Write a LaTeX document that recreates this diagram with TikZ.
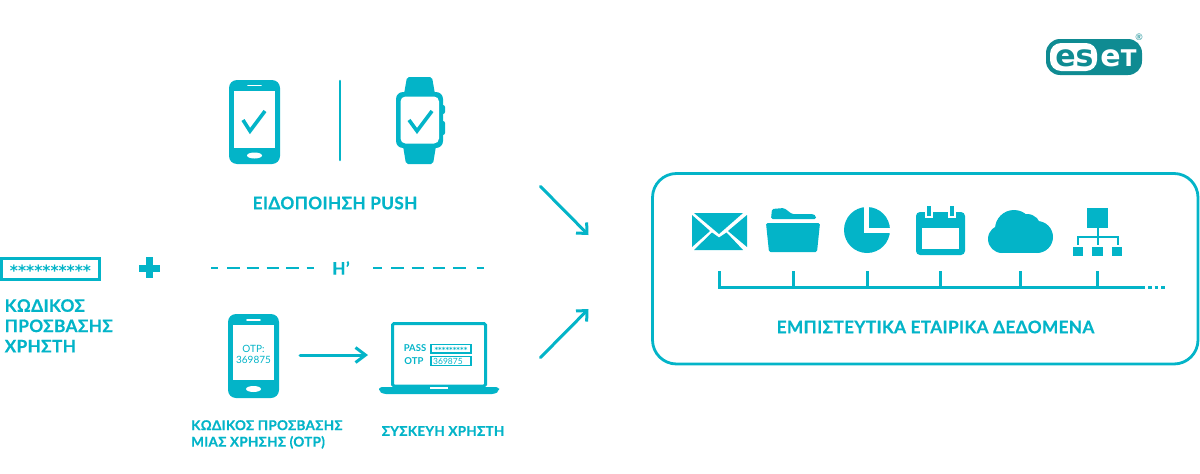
\documentclass[tikz,border=0pt]{standalone}
\usepackage{fontspec}
\setmainfont{Lato}
\usetikzlibrary{arrows.meta}
\definecolor{esetcyan}{HTML}{03B4C8}
\definecolor{esetdark}{HTML}{0F8B92}
\newfontfamily\labelfont[LetterSpace=2,FakeBold=0.6]{Lato Bold}
\newfontfamily\starfont{DejaVu Sans Bold}
\tikzset{
    label text/.style={text=esetcyan,font=\labelfont\fontsize{17.2}{20.3}\selectfont,inner sep=0pt,align=left},
    lower text/.style={text=esetcyan,font=\labelfont\fontsize{13.5}{16.5}\selectfont,inner sep=0pt,align=left},
    small text/.style={text=esetcyan,font=\fontsize{9.5}{11}\selectfont\bfseries,inner sep=0pt},
    teal line/.style={draw=esetcyan,line width=3pt},
    go/.style={draw=esetcyan,line width=3pt,line cap=round,-{Straight Barb[length=8pt,width=15pt]}}
}
\begin{document}
\begin{tikzpicture}[x=1pt,y=-1pt]
    \useasboundingbox (0,0) rectangle (1200,474);

    % Logo
    \fill[esetdark,rounded corners=14pt] (1046,39) rectangle (1142,75);
    \fill[white,rounded corners=11pt] (1050,43) rectangle (1097,71);
    \node[text=esetdark,font=\starfont\fontsize{30}{30}\selectfont,inner sep=0pt,anchor=base] (logoes) at (1074.5,66.5) {es};
    \node[text=white,font=\starfont\fontsize{30}{30}\selectfont,inner sep=0pt,anchor=base] (logoet) at (1118.5,66.5) {e{\fontsize{23}{23}\selectfont T}};
    \node[text=esetdark,font=\fontsize{9}{9}\selectfont,inner sep=0pt] (logoreg) at (1139,37) {®};

    % Push phone
    \fill[esetcyan,rounded corners=8pt] (229,80) rectangle (280,164);
    \fill[white] (234,91) rectangle (275,148);
    \draw[white,line width=1.6pt,line cap=round] (248,85.5) -- (261,85.5);
    \fill[white] (254.5,155.5) ellipse (7.5pt and 3pt);
    \draw[esetcyan,line width=3.6pt] (243,120) -- (250,131) -- (265,111);

    % Divider
    \draw[esetcyan,line width=2.6pt,line cap=round] (340,81) -- (340,160);

    % Watch
    \fill[esetcyan,rounded corners=2pt] (404,94) -- (407,77) -- (432,77) -- (435,94) -- cycle;
    \fill[esetcyan,rounded corners=2pt] (403,146) -- (406,164) -- (433,164) -- (436,146) -- cycle;
    \fill[esetcyan,rounded corners=2pt] (441,105) rectangle (445,114);
    \fill[esetcyan,rounded corners=2pt] (441,121) rectangle (445,135);
    \fill[esetcyan,rounded corners=7pt] (396,92) rectangle (443,148);
    \fill[white,rounded corners=5pt] (400.5,96.5) rectangle (439,143.5);
    \draw[esetcyan,line width=3.6pt] (409,120) -- (417,131) -- (432,111);

    % Headline labels
    \node[label text] (pushlabel) at (335,203) {ΕΙΔΟΠΟΙΗΣΗ PUSH};
    \node[label text,anchor=north west] (userpass) at (4.5,299) {ΚΩΔΙΚΟΣ\\ΠΡΟΣΒΑΣΗΣ\\ΧΡΗΣΤΗ};
    \node[lower text,anchor=north west] (otplabel) at (191,420) {ΚΩΔΙΚΟΣ ΠΡΟΣΒΑΣΗΣ\\ΜΙΑΣ ΧΡΗΣΗΣ (OTP)};
    \node[lower text] (devicelabel) at (443,431) {ΣΥΣΚΕΥΗ ΧΡΗΣΤΗ};

    % Password box and plus
    \draw[esetcyan,line width=3pt] (1.5,258.5) rectangle (99.5,279.5);
    \node[text=esetcyan,font=\starfont\fontsize{15.5}{15.5}\selectfont,inner sep=0pt,anchor=base] (stars) at (50.5,276) {**********};
    \draw[esetcyan,line width=7pt] (139,268) -- (160,268) (149.5,257) -- (149.5,278);

    % Or line
    \node[label text] (orlabel) at (341,268) {Η’};
    \coordinate (orleft) at (211,268);
    \coordinate (orright) at (484,268);
    \draw[esetcyan,line width=2.8pt,dash pattern=on 7pt off 9pt on 12.5pt off 7pt on 12.5pt off 7.5pt on 12.5pt off 7pt on 12.5pt off 8pt on 7pt] (orleft) -- (315,268);
    \draw[esetcyan,line width=2.8pt,dash pattern=on 9pt off 9pt on 12.5pt off 8pt on 12.5pt off 8.5pt on 12.5pt off 8pt on 12.5pt off 11pt on 7pt] (373,268) -- (orright);

    % OTP phone
    \fill[esetcyan,rounded corners=8pt] (228,314) rectangle (279,398);
    \fill[white] (233,324.5) rectangle (274,380);
    \draw[white,line width=1.6pt,line cap=round] (247,320) -- (260,320);
    \fill[white] (253.5,389) ellipse (7.5pt and 3pt);
    \node[small text,font=\fontsize{10}{11.5}\selectfont,align=center] (otpcode) at (253.5,354.5) {OTP:\\369875};

    % Laptop
    \draw[esetcyan,line width=3pt,rounded corners=1.5pt] (392.5,323.5) rectangle (485.5,386);
    \fill[esetcyan,rounded corners=3pt] (379,387) -- (499,387) -- (499,391) -- (495,394) -- (383,394) -- (379,391) -- cycle;
    \fill[white] (430,387) rectangle (448,389);
    \node[small text] (passlabel) at (415,348.5) {PASS};
    \node[small text] (otpfield) at (414,361) {OTP};
    \draw[esetcyan,line width=1.1pt] (431,344.2) rectangle (471,353);
    \draw[esetcyan,line width=1.1pt] (431,356.5) rectangle (471,365.2);
    \node[text=esetcyan,font=\starfont\fontsize{7}{7}\selectfont,inner sep=0pt,anchor=base] (passdots) at (451,352.2) {*********};
    \node[small text,font=\fontsize{8.5}{8.5}\selectfont,anchor=west] (otpvalue) at (433,361) {369875};

    % Arrows
    \coordinate (phoneout) at (300,355);
    \coordinate (laptopin) at (368,355);
    \draw[go,-{Straight Barb[length=10pt,width=15pt]}] (phoneout) -- (laptopin);
    \coordinate (topfrom) at (540.5,186.5);
    \coordinate (topto) at (588.5,235);
    \coordinate (lowfrom) at (540.5,357.5);
    \coordinate (lowto) at (588.5,309);
    \draw[go] (topfrom) -- (topto);
    \draw[go] (lowfrom) -- (lowto);

    % Data box
    \draw[esetcyan,line width=2.8pt,rounded corners=24pt] (652.5,173.5) rectangle (1198,364);
    \node[label text] (datalabel) at (935.5,327) {ΕΜΠΙΣΤΕΥΤΙΚΑ ΕΤΑΙΡΙΚΑ ΔΕΔΟΜΕΝΑ};

    % Envelope
    \fill[esetcyan] (694,213) -- (743,213) -- (719,234) -- cycle;
    \fill[esetcyan] (692,215) -- (692,247) -- (710,231) -- cycle;
    \fill[esetcyan] (747,215) -- (747,247) -- (728,231) -- cycle;
    \fill[esetcyan] (694,250) -- (712,232.5) -- (719,237.5) -- (726.5,232.5) -- (743,250) -- cycle;

    % Folder
    \fill[esetcyan,rounded corners=1.5pt] (771,219) -- (772,209) -- (784,208) -- (792,214) -- (813,214) -- (816,216) -- (816,219) -- cycle;
    \fill[esetcyan,rounded corners=1.5pt] (766,223) -- (820,223) -- (817,252) -- (769,252) -- cycle;

    % Pie
    \fill[esetcyan] (867,230) circle (23pt);
    \draw[white,line width=5pt] (866.5,204) -- (866.5,230.5) -- (893,230.5);

    % Calendar
    \fill[esetcyan,rounded corners=4pt] (916,212) rectangle (965,255);
    \fill[white] (922,228) rectangle (959,249);
    \fill[white] (925,205) rectangle (933,217.5);
    \fill[white] (948,205) rectangle (956,217.5);
    \fill[esetcyan] (927,206) rectangle (931,215.5);
    \fill[esetcyan] (950,206) rectangle (954,215.5);

    % Cloud
    \fill[esetcyan] (1002,239) circle (14pt);
    \fill[esetcyan] (1037,237) circle (16pt);
    \fill[esetcyan] (1014,229) circle (19pt);
    \fill[esetcyan] (1027,228) circle (14pt);
    \fill[esetcyan] (1002,235) rectangle (1037,253);

    % Network
    \fill[esetcyan] (1087,208) rectangle (1108,228);
    \fill[esetcyan] (1073,247) rectangle (1083,256);
    \fill[esetcyan] (1092,247) rectangle (1103,256);
    \fill[esetcyan] (1112,247) rectangle (1122,256);
    \draw[esetcyan,line width=2pt] (1097.5,228) -- (1097.5,245) (1077.5,245) -- (1077.5,237) -- (1117.5,237) -- (1117.5,245);

    % Timeline
    \coordinate (linestart) at (718,287);
    \coordinate (lineend) at (1145,287);
    \draw[teal line] (linestart) -- (lineend);
    \foreach \tickx in {719,793,867,940,1020,1097}
        \draw[teal line] (\tickx,271) -- (\tickx,287);
    \draw[esetcyan,line width=3pt,dash pattern=on 3.5pt off 3pt] (1148,287) -- (1166,287);
\end{tikzpicture}
\end{document}
